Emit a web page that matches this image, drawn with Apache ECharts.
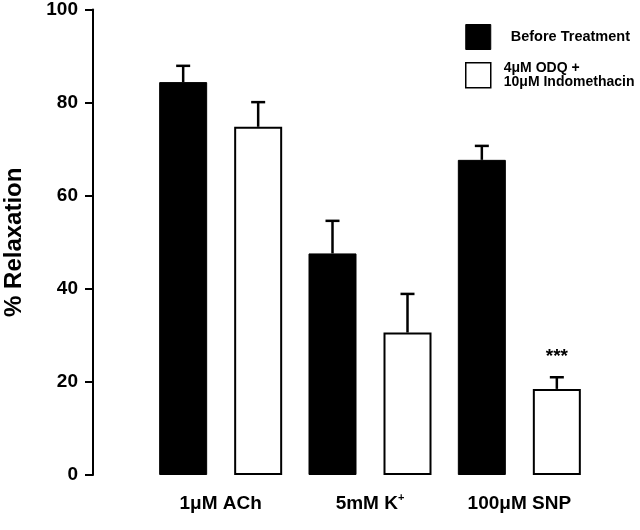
<!DOCTYPE html>
<html><head><meta charset="utf-8">
<script src="https://cdn.jsdelivr.net/npm/echarts@6/dist/echarts.min.js"></script>
<style>html,body{margin:0;padding:0;background:#fff}#c{width:640px;height:530px}</style>
</head><body><div id="c"></div>
<script>
var categories = ['1μM ACh', '5mM K+', '100μM SNP'];
var seriesNames = ['Before Treatment', '4μM ODQ +\n10μM Indomethacin'];
var beforeValues = [84.4, 47.6, 67.7];
var beforeErrors = [3.5, 7.0, 3.0];
var afterValues = [74.8, 30.6, 18.5];
var afterErrors = [5.3, 8.3, 2.5];
var significance = ['', '', '***'];
var yTicks = [0, 20, 40, 60, 80, 100];

var FONT = '"Liberation Sans", Arial, Helvetica, sans-serif';
var BAR_W = 48, BAR_GAP = 27;
var chart = echarts.init(document.getElementById('c'));

function errSeries(vals, errs, side, labels) {
  var data = vals.map(function (v, i) { return [i, v, v + errs[i], labels ? labels[i] : '']; });
  return {
    type: 'custom',
    silent: true,
    z: 5,
    data: data,
    encode: { x: 0, y: [1, 2] },
    renderItem: function (params, api) {
      var i = api.value(0);
      var base = api.coord([i, api.value(1)]);
      var top = api.coord([i, api.value(2)]);
      var x = base[0] + side * (BAR_W + BAR_GAP) / 2;
      var children = [
        { type: 'line', shape: { x1: x, y1: base[1], x2: x, y2: top[1] }, style: { stroke: '#000', lineWidth: 2.5 } },
        { type: 'line', shape: { x1: x - 7, y1: top[1], x2: x + 7, y2: top[1] }, style: { stroke: '#000', lineWidth: 2.5 } }
      ];
      var lab = data[params.dataIndex][3];
      if (lab) {
        children.push({ type: 'text', x: x, y: top[1] - 20, style: { text: lab, fill: '#000', font: 'bold 19px ' + FONT, align: 'center', verticalAlign: 'middle' } });
      }
      return { type: 'group', children: children };
    }
  };
}

chart.setOption({
  animation: false,
  backgroundColor: '#fff',
  grid: { left: 146, right: 46, top: 9.5, bottom: 55, outerBoundsMode: 'none', containLabel: false },
  legend: {
    left: 465, top: 24, padding: 0,
    orient: 'vertical',
    itemWidth: 25, itemHeight: 25, itemGap: 11,
    data: [
      { name: seriesNames[0], icon: 'rect', itemStyle: { color: '#000', borderColor: '#000', borderWidth: 1 } },
      { name: seriesNames[1], icon: 'rect', itemStyle: { color: '#fff', borderColor: '#000', borderWidth: 1.5 } }
    ],
    formatter: function (n) { return n === seriesNames[0] ? '{a|' + n + '}' : '{b|4μM ODQ +}\n{b|10μM Indomethacin}'; },
    textStyle: {
      color: '#000', fontFamily: FONT, fontWeight: 'bold', fontSize: 14,
      rich: {
        a: { fontFamily: FONT, fontWeight: 'bold', fontSize: 14.5, padding: [0, 0, 0, 15], color: '#000' },
        b: { fontFamily: FONT, fontWeight: 'bold', fontSize: 14, lineHeight: 14.5, padding: [0, 0, 0, 8], color: '#000' }
      }
    }
  },
  xAxis: {
    type: 'category',
    data: categories,
    axisLine: { show: false },
    axisTick: { show: false },
    axisLabel: {
      interval: 0,
      margin: 17, color: '#000', fontFamily: FONT, fontWeight: 'bold', fontSize: 19,
      formatter: function (v) {
        if (v.slice(-1) === '+') return '{t|' + v.slice(0, -1) + '}{s|+}';
        return '{t|' + v + '}';
      },
      rich: {
        t: { fontFamily: FONT, fontWeight: 'bold', fontSize: 19, lineHeight: 24, color: '#000' },
        s: { fontFamily: FONT, fontWeight: 'bold', fontSize: 11, lineHeight: 11, color: '#000', verticalAlign: 'top' }
      }
    }
  },
  yAxis: {
    type: 'value',
    min: 0, max: 100, interval: 20,
    offset: 53,
    splitLine: { show: false },
    axisLine: { show: true, lineStyle: { color: '#000', width: 2 } },
    axisTick: { show: true, length: 8, lineStyle: { color: '#000', width: 2 } },
    axisLabel: {
      margin: 15, color: '#000', fontFamily: FONT, fontWeight: 'bold', fontSize: 19,
      formatter: function (v) { return yTicks.indexOf(v) >= 0 ? String(v) : ''; }
    },
    name: '% Relaxation',
    nameLocation: 'middle',
    nameGap: 67,
    nameTextStyle: { color: '#000', fontFamily: FONT, fontWeight: 'bold', fontSize: 24 }
  },
  series: [
    { name: seriesNames[0], type: 'bar', data: beforeValues, barWidth: BAR_W, barGap: (BAR_GAP / BAR_W * 100) + '%',
      itemStyle: { color: '#000', borderColor: '#000', borderWidth: 1 } },
    { name: seriesNames[1], type: 'bar', data: afterValues, barWidth: BAR_W,
      itemStyle: { color: '#fff', borderColor: '#000', borderWidth: 2 } },
    errSeries(beforeValues, beforeErrors, -1, null),
    errSeries(afterValues, afterErrors, 1, significance)
  ]
});
</script></body></html>
